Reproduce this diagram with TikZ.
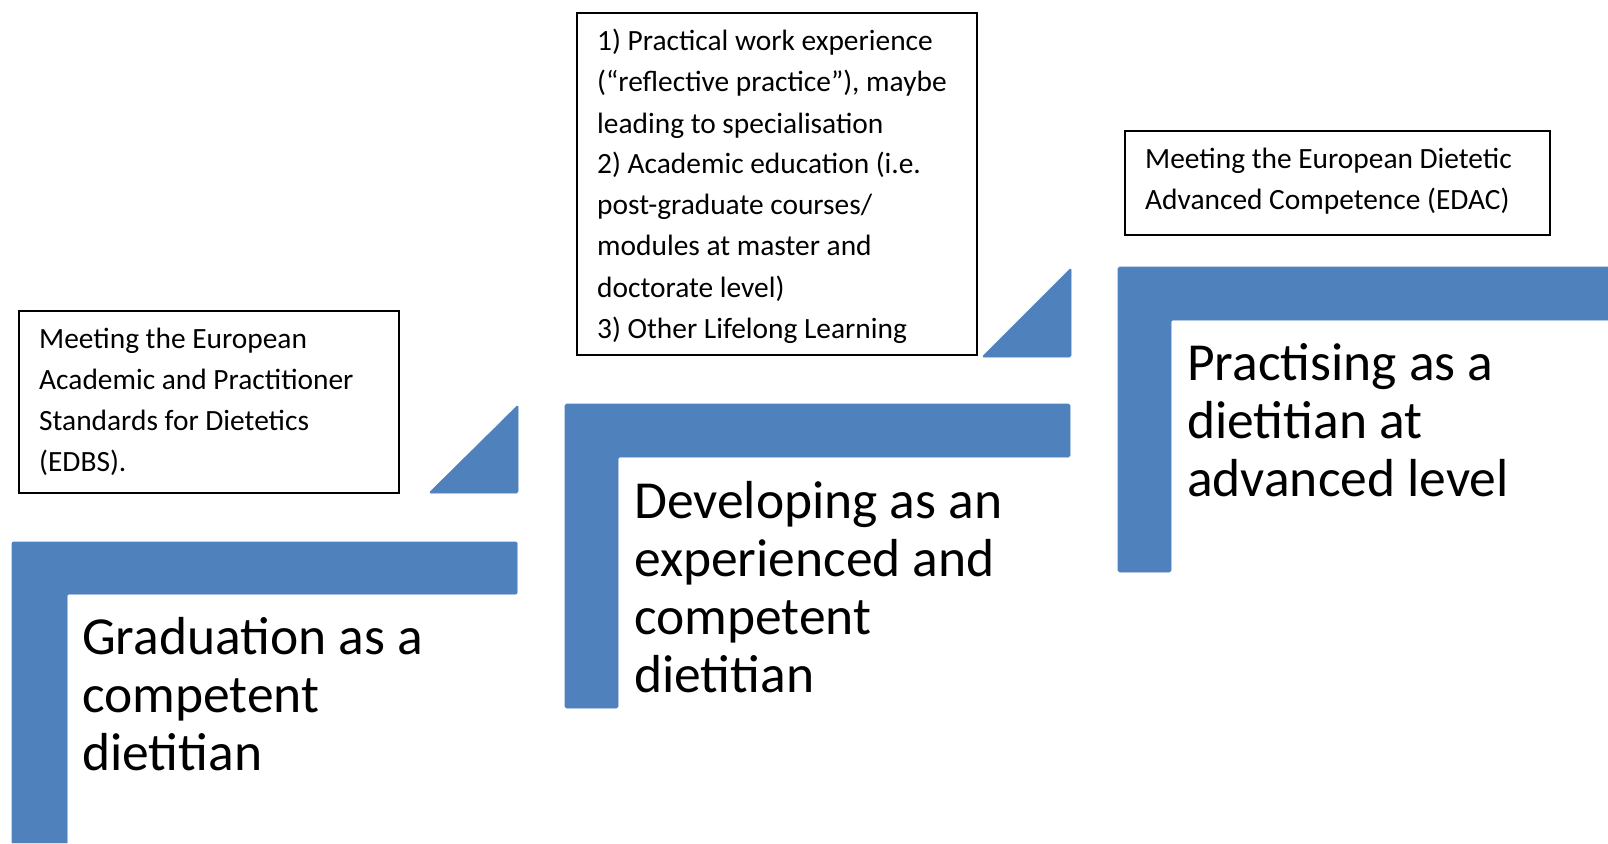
\documentclass[tikz,border=0pt]{standalone}
\usepackage{fontspec}
\setmainfont{Carlito}
\definecolor{stepblue}{HTML}{4F81BD}
\tikzset{
  lshape/.style={fill=stepblue, draw=stepblue, line width=0.6pt, rounded corners=1.5pt},
  tri/.style={fill=stepblue, draw=stepblue, line width=0.6pt, rounded corners=1.5pt},
  infobox/.style={draw=black, line width=1.6pt, anchor=north west, inner sep=0pt, fill=white},
  smalltxt/.style={anchor=base west, inner sep=0pt, font=\fontsize{29.4}{41}\selectfont},
  bigtxt/.style={anchor=base west, inner sep=0pt, font=\fontsize{53.5}{58}\selectfont}
}
\begin{document}
\begin{tikzpicture}[x=1pt,y=-1pt]
\useasboundingbox (0,0) rectangle (1608,843);
% L shapes
\fill[stepblue] (12,542) -- (517,542) -- (517,594) -- (67,594) -- (67,843) -- (12,843) -- cycle;
\draw[lshape] (12,843) -- (12,542) -- (517,542) -- (517,594) -- (67,594) -- (67,843);
\draw[lshape] (565,404) -- (1070,404) -- (1070,457) -- (618,457) -- (618,708) -- (565,708) -- cycle;
\draw[lshape] (1118,267) -- (1610,267) -- (1610,320) -- (1171,320) -- (1171,572) -- (1118,572) -- cycle;
% triangles
\draw[tri] (429,493) -- (518,493) -- (518,405) -- cycle;
\draw[tri] (982,357) -- (1071,357) -- (1071,268) -- cycle;
% boxes
\node[infobox, minimum width=380pt, minimum height=182pt] (b1) at (18,310) {};
\node[infobox, minimum width=400pt, minimum height=342pt] (b2) at (576,12) {};
\node[infobox, minimum width=425pt, minimum height=104pt] (b3) at (1124,130) {};
% box texts
\node[smalltxt] (t1) at (39,348) {\parbox[t]{350pt}{\raggedright Meeting the European\\Academic and Practitioner\\Standards for Dietetics\\(EDBS).}};
\node[smalltxt] (t2) at (597,51) {\parbox[t]{375pt}{\raggedright 1) Practical work experience\\(“reflective practice”), maybe\\leading to specialisation\\2) Academic education (i.e.\\post-graduate courses/\\modules at master and\\doctorate level)\\3) Other Lifelong Learning}};
\node[smalltxt] (t3) at (1145,168) {\parbox[t]{400pt}{\raggedright Meeting the European Dietetic\\Advanced Competence (EDAC)}};
% step texts
\node[bigtxt] (s1) at (82,654) {\parbox[t]{430pt}{\raggedright Graduation as a\\competent\\dietitian}};
\node[bigtxt] (s2) at (634,518) {\parbox[t]{430pt}{\raggedright Developing as an\\experienced and\\competent\\dietitian}};
\node[bigtxt] (s3) at (1187,380) {\parbox[t]{430pt}{\raggedright Practising as a\\dietitian at\\advanced level}};
\end{tikzpicture}
\end{document}
